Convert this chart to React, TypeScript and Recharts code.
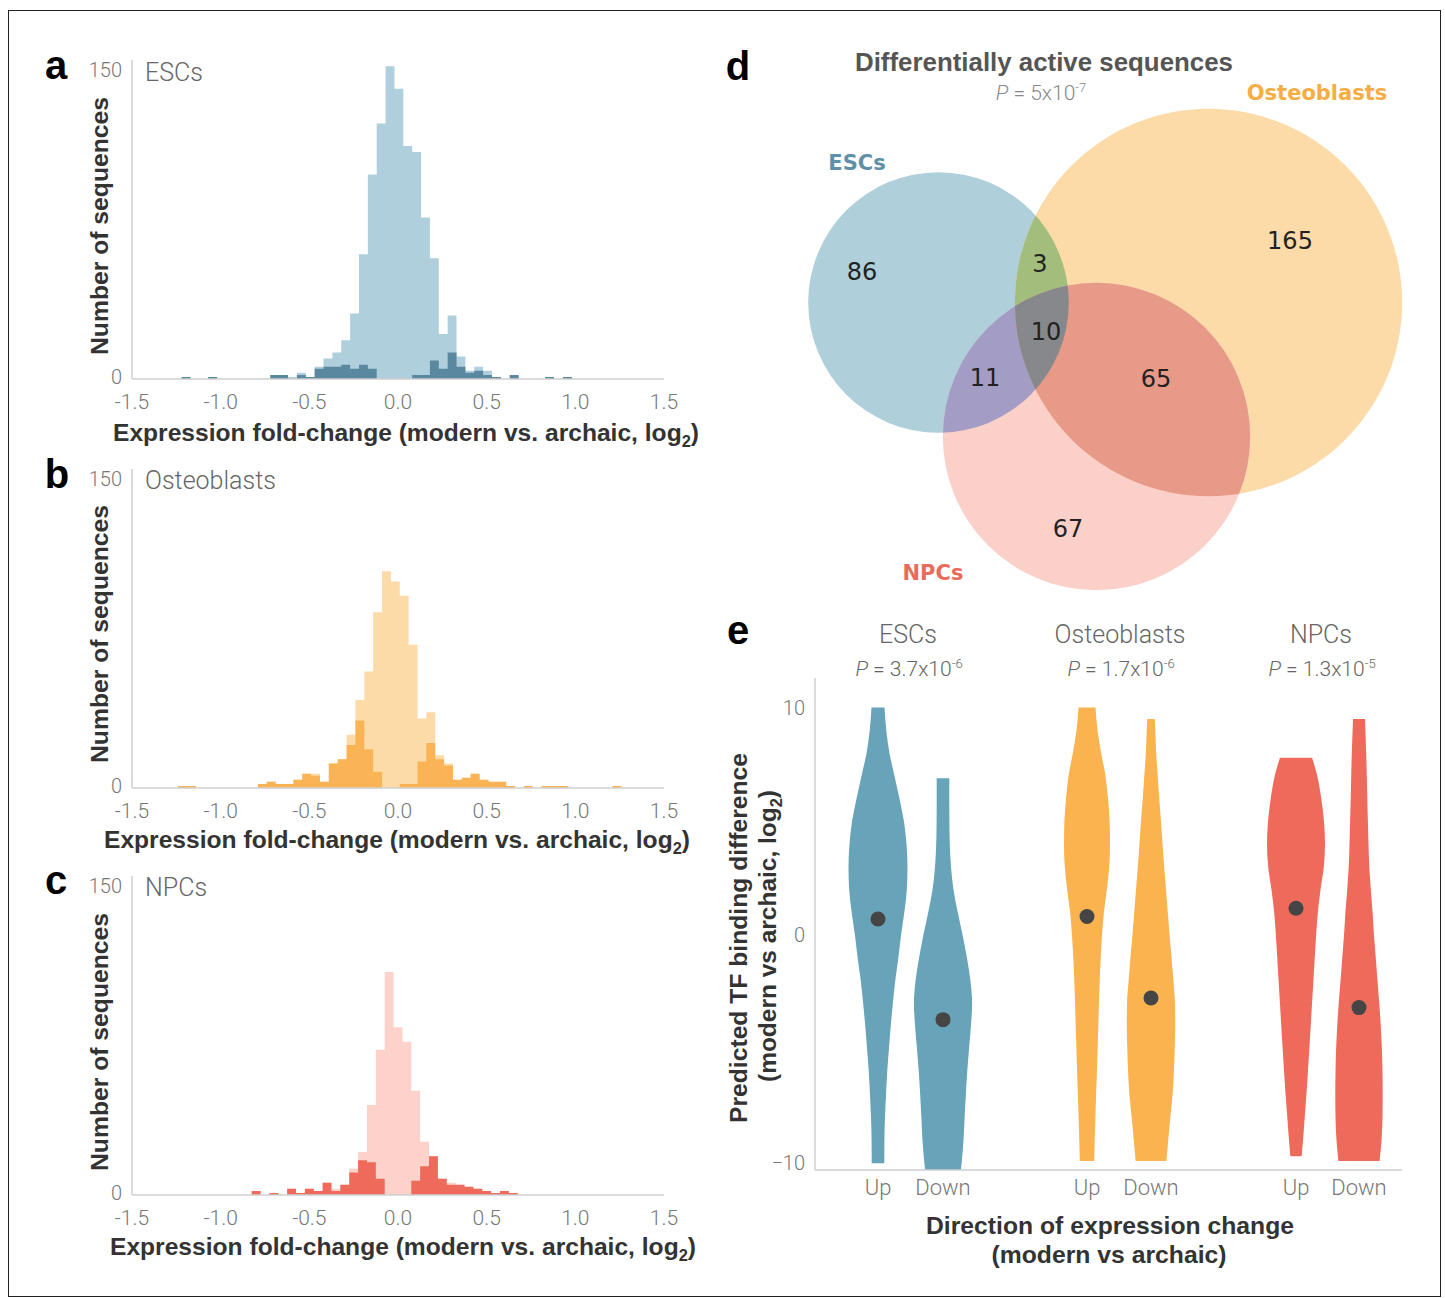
import React from "react";
import {
  Area,
  ComposedChart,
  ReferenceDot,
  Scatter,
  ScatterChart,
  XAxis,
  YAxis,
  ZAxis,
} from "recharts";

const LIGHT = "Roboto, 'Liberation Sans', Arial, sans-serif";
const BOLD = "'Liberation Sans', Arial, sans-serif";
const VENN_FONT = "'DejaVu Sans', sans-serif";
const AXIS = "#cfcfcf";

// ---- panels a-c: histograms (bin left edges = start + i * 0.05) ----
const BIN_WIDTH = 0.05;
const HIST_TICKS = [-1.5, -1.0, -0.5, 0, 0.5, 1.0, 1.5];

const ESC_START = -1.22;
const ESC_ALL = [1, 0, 0, 1, 0, 0, 0, 0, 0, 0, 2, 2, 1, 3, 1, 6, 10, 13, 19, 32, 61, 100, 125, 153, 142, 114, 111, 79, 59, 22, 31, 11, 4, 6, 4, 1, 0, 2, 0, 0, 0, 1, 0, 1, 0];
const ESC_SIG = [1, 0, 0, 1, 0, 0, 0, 0, 0, 0, 2, 2, 0, 2, 1, 5, 6, 6, 7, 5, 7, 5, 0, 0, 0, 0, 2, 2, 9, 5, 13, 6, 3, 4, 2, 1, 0, 2, 0, 0, 0, 1, 0, 1, 0];

const OST_START = -1.24;
const OST_ALL = [1, 1, 0, 0, 0, 0, 0, 0, 0, 2, 3, 2, 2, 4, 7, 7, 3, 12, 14, 26, 43, 57, 86, 106, 101, 94, 70, 34, 37, 16, 12, 4, 5, 7, 4, 3, 3, 1, 0, 1, 0, 1, 1, 1, 0, 0, 0, 0, 0, 1, 0];
const OST_SIG = [1, 1, 0, 0, 0, 0, 0, 0, 0, 2, 3, 2, 2, 4, 7, 6, 3, 12, 14, 21, 33, 19, 8, 0, 0, 2, 2, 13, 22, 14, 11, 4, 5, 7, 4, 3, 3, 1, 0, 1, 0, 1, 1, 1, 0, 0, 0, 0, 0, 1, 0];

const NPC_START = -0.825;
const NPC_ALL = [2, 0, 1, 0, 3, 1, 3, 2, 6, 3, 5, 13, 21, 44, 71, 109, 82, 75, 51, 26, 19, 8, 6, 5, 4, 3, 2, 1, 2, 1, 0];
const NPC_SIG = [2, 0, 1, 0, 3, 1, 3, 2, 6, 2, 5, 11, 17, 16, 8, 0, 0, 0, 7, 14, 19, 8, 5, 5, 4, 3, 2, 1, 2, 1, 0];

// ---- panel d: Venn region counts ----
const REGION_NAMES = ["esc", "ost", "npc", "esc+ost", "esc+npc", "ost+npc", "esc+ost+npc"];
const REGION_COUNTS = [86, 165, 67, 3, 11, 65, 10];
// label positions of the region counts, in the Venn layout space
const REGION_LABEL_X = [82, 510, 288, 260, 205, 376, 266];
const REGION_LABEL_Y = [171, 140, 428, 163, 277, 278, 231];
// circle centres in the Venn layout space (areas follow set sizes)
const SET_KEYS = ["esc", "ost", "npc"];
const SET_X = [158.5, 428.5, 316.5];
const SET_Y = [202.5, 202.5, 336.5];

// ---- panel e: violins (value, half-width) ----
const CELL_TYPES = ["ESCs", "Osteoblasts", "NPCs"];
const P_VALUES = [["3.7", "-6"], ["1.7", "-6"], ["1.3", "-5"]];
const DIRECTIONS = ["Up", "Down"];
const VIOLIN_POS = [63, 128, 272, 336, 481, 544];
const VIOLIN_MEANS = [0.72, -3.7, 0.83, -2.75, 1.19, -3.17];

const ESC_UP: [number, number][] = [
  [10, 6.5], [9, 8.3], [8, 11.5], [7, 16.5], [6, 21.5], [5, 26], [4, 28.5], [3, 29.5], [2, 28.8], [1, 26.3], [0, 23],
  [-1, 20.3], [-2, 17.2], [-3, 14.8], [-4, 12.7], [-5, 10.9], [-6, 9.2], [-7, 8], [-8, 7], [-9, 6.4], [-10, 6.3],
];
const ESC_DOWN: [number, number][] = [
  [6.9, 6.3], [6, 6.3], [5, 6.4], [4, 6.8], [3, 8], [2, 10.5], [1, 14.8], [0, 19.7], [-1, 24], [-2, 27.5], [-3, 29.1],
  [-4, 27.9], [-5, 26], [-6, 24.2], [-7, 22.8], [-8, 21.6], [-9, 20.5], [-10, 18.6], [-10.3, 17.9],
];
const OST_UP: [number, number][] = [
  [10, 8.5], [9, 10.5], [8, 14.2], [7, 18.5], [6, 21], [5, 22.6], [4, 23], [3, 22.2], [2, 19.8], [1, 16.9], [0, 15],
  [-1, 13.7], [-2, 12.7], [-3, 11.9], [-4, 11.3], [-5, 10.6], [-6, 9.9], [-7, 9.1], [-8, 8.4], [-9, 7.7], [-9.9, 7.2],
];
const OST_DOWN: [number, number][] = [
  [9.5, 3.8], [9, 4.3], [8, 5.2], [7, 6.7], [6, 8.3], [5, 10], [4, 11.6], [3, 13.2], [2, 15], [1, 16.8], [0, 18.6],
  [-1, 20.6], [-2, 22.4], [-3, 24], [-4, 24.2], [-5, 23.7], [-6, 22.9], [-7, 21.6], [-8, 19.3], [-9, 17.2], [-9.9, 15.4],
];
const NPC_UP: [number, number][] = [
  [7.8, 16.1], [7, 21.3], [6, 25.3], [5, 28], [4, 29], [3, 27.8], [2, 24.5], [1, 21.8], [0, 20.1], [-1, 18.7],
  [-2, 17.4], [-3, 16], [-4, 14.7], [-5, 13.3], [-6, 11.9], [-7, 10.4], [-8, 8.7], [-9, 7], [-9.7, 5.6],
];
const NPC_DOWN: [number, number][] = [
  [9.5, 6], [9, 6.4], [8, 7.2], [7, 7.8], [6, 8.3], [5, 8.9], [4, 9.5], [3, 10.3], [2, 11.8], [1, 13.6], [0, 15],
  [-1, 16.8], [-2, 18.5], [-3, 20.3], [-4, 21.8], [-5, 22.9], [-6, 23.5], [-7, 23.7], [-8, 23.5], [-9, 22.5], [-9.9, 20.6],
];

const COLORS = {
  esc: { light: "#afcfdc", dark: "#5a88a0", violin: "#67a3b9", label: "#5f90a9" },
  ost: { light: "#fddba8", dark: "#fbb455", violin: "#fbb350", label: "#f4ae45" },
  npc: { light: "#fcd2cb", dark: "#ee6a5b", violin: "#ee6a5a", label: "#e96b5b" },
};
const VENN_COLORS: Record<string, string> = {
  esc: "#afcfdb",
  ost: "#fddba8",
  npc: "#fbd0c8",
  "esc+ost": "#a3be7c",
  "esc+npc": "#a39dc5",
  "ost+npc": "#e89a88",
  "esc+ost+npc": "#87888c",
};

const histRows = (start: number, all: number[], sig: number[]) => {
  const rows = all.map((n, i) => ({ x: +(start + i * BIN_WIDTH).toFixed(4), all: n, sig: sig[i] }));
  rows.push({ x: +(start + all.length * BIN_WIDTH).toFixed(4), all: 0, sig: 0 });
  return rows;
};

function Histogram({ top, start, all, sig, light, dark }: {
  top: number; start: number; all: number[]; sig: number[]; light: string; dark: string;
}) {
  const rows = histRows(start, all, sig);
  return (
    <div style={{ position: "absolute", left: 0, top }}>
      <ComposedChart width={720} height={460} data={rows} margin={{ top: 60, right: 56, bottom: 41, left: 92 }}>
        <XAxis
          type="number"
          dataKey="x"
          domain={[-1.5, 1.5]}
          ticks={HIST_TICKS}
          interval={0}
          allowDataOverflow
          tickFormatter={(v: number) => v.toFixed(1)}
          axisLine={{ stroke: AXIS, strokeWidth: 1.5 }}
          tickLine={false}
          height={40}
          tickMargin={9}
          tick={{ fill: "#777", fontSize: 21, fontFamily: LIGHT, fontWeight: 300 }}
        />
        <YAxis
          type="number"
          domain={[0, 156]}
          ticks={[0, 150]}
          interval={0}
          width={40}
          axisLine={{ stroke: AXIS, strokeWidth: 1.5 }}
          tickLine={false}
          tickMargin={4}
          tick={{ fill: "#777", fontSize: 20, fontFamily: LIGHT, fontWeight: 300, dy: -2 }}
        />
        <Area type="stepAfter" dataKey="all" fill={light} fillOpacity={1} stroke="none" isAnimationActive={false} />
        <Area type="stepAfter" dataKey="sig" fill={dark} fillOpacity={1} stroke="none" isAnimationActive={false} />
      </ComposedChart>
    </div>
  );
}

const VennCircle = (props: any) => {
  const { cx, cy, width, size, payload } = props;
  const r = width ? width / 2 : Math.sqrt(size / Math.PI);
  return (
    <g>
      <defs>
        <clipPath id={`venn-${payload.key}`}>
          <circle cx={cx} cy={cy} r={r} />
        </clipPath>
      </defs>
      <circle cx={cx} cy={cy} r={r} fill={payload.color} />
    </g>
  );
};

const VennOverlap = (props: any) => {
  const { cx, cy, width, size, payload } = props;
  const r = width ? width / 2 : Math.sqrt(size / Math.PI);
  let node: React.ReactNode = <circle cx={cx} cy={cy} r={r} fill={payload.color} />;
  for (const k of payload.clips as string[]) {
    node = <g clipPath={`url(#venn-${k})`}>{node}</g>;
  }
  return <g>{node}</g>;
};

const VennCount = (props: any) => {
  const { cx, cy, payload } = props;
  return (
    <text x={cx} y={cy} dy="0.36em" textAnchor="middle" fontFamily={VENN_FONT} fontSize={24} fill="#222">
      {payload.label}
    </text>
  );
};

function Venn() {
  const setSize = (key: string) =>
    REGION_NAMES.reduce((s, name, i) => (name.split("+").includes(key) ? s + REGION_COUNTS[i] : s), 0);
  const circles = SET_KEYS.map((key, i) => ({ key, x: SET_X[i], y: SET_Y[i], n: setSize(key), color: VENN_COLORS[key] }));
  const overlaps = REGION_NAMES.filter((r) => r.includes("+")).map((region) => {
    const keys = region.split("+");
    const base = circles.find((c) => c.key === keys[0])!;
    return { x: base.x, y: base.y, n: base.n, clips: keys.slice(1), color: VENN_COLORS[region] };
  });
  const counts = REGION_NAMES.map((_, i) => ({ x: REGION_LABEL_X[i], y: REGION_LABEL_Y[i], label: REGION_COUNTS[i] }));
  return (
    <div style={{ position: "absolute", left: 780, top: 100 }}>
      <ScatterChart width={660} height={520} margin={{ top: 0, right: 0, bottom: 0, left: 0 }}>
        <XAxis type="number" dataKey="x" domain={[0, 660]} hide />
        <YAxis type="number" dataKey="y" domain={[0, 520]} reversed hide />
        <ZAxis type="number" dataKey="n" domain={[0, 250]} range={[0, 250 * 485]} />
        <Scatter data={circles} shape={<VennCircle />} isAnimationActive={false} />
        <Scatter data={overlaps} shape={<VennOverlap />} isAnimationActive={false} />
        <Scatter data={counts} shape={<VennCount />} isAnimationActive={false} />
      </ScatterChart>
    </div>
  );
}

function Violins() {
  const profiles = [ESC_UP, ESC_DOWN, OST_UP, OST_DOWN, NPC_UP, NPC_DOWN];
  const colors = [COLORS.esc, COLORS.esc, COLORS.ost, COLORS.ost, COLORS.npc, COLORS.npc].map((c) => c.violin);
  return (
    <div style={{ position: "absolute", left: 700, top: 660 }}>
      <ComposedChart layout="vertical" width={720} height={560} margin={{ top: 18, right: 18, bottom: 10, left: 75 }}>
        <XAxis
          type="number"
          domain={[0, 587]}
          ticks={VIOLIN_POS}
          interval={0}
          allowDataOverflow
          tickFormatter={(_: number, i: number) => DIRECTIONS[i % 2]}
          axisLine={{ stroke: AXIS, strokeWidth: 1.5 }}
          tickLine={false}
          height={40}
          tickMargin={3}
          tick={{ fill: "#777", fontSize: 22, fontFamily: LIGHT, fontWeight: 300 }}
        />
        <YAxis
          type="number"
          dataKey="v"
          domain={[-10.3, 11.3]}
          reversed
          ticks={[-10, 0, 10]}
          interval={0}
          allowDataOverflow
          tickFormatter={(v: number) => (v < 0 ? `\u2212${-v}` : `${v}`)}
          width={40}
          axisLine={{ stroke: AXIS, strokeWidth: 1.5 }}
          tickLine={false}
          tickMargin={4}
          tick={{ fill: "#777", fontSize: 20, fontFamily: LIGHT, fontWeight: 300 }}
        />
        {profiles.map((prof, i) => (
          <Area
            key={i}
            data={prof.map(([v, w]) => ({ v, range: [VIOLIN_POS[i] - w, VIOLIN_POS[i] + w] }))}
            dataKey="range"
            type="monotone"
            fill={colors[i]}
            fillOpacity={1}
            stroke="none"
            isAnimationActive={false}
          />
        ))}
        {VIOLIN_MEANS.map((m, i) => (
          <ReferenceDot key={i} x={VIOLIN_POS[i]} y={m} r={7.5} fill="#454545" stroke="none" />
        ))}
      </ComposedChart>
    </div>
  );
}

const Log2 = () => (
  <>
    log<tspan dy={6} fontSize={16}>2</tspan>
    <tspan dy={-6}>)</tspan>
  </>
);

function Texts() {
  const boldText = { fontFamily: BOLD, fontWeight: 700, fontSize: 24, fill: "#333", lengthAdjust: "spacingAndGlyphs" as const };
  const xTitle = (x: number, y: number) => (
    <text x={x} y={y} textAnchor="middle" textLength={586} {...boldText}>
      Expression fold-change (modern vs. archaic, <Log2 />
    </text>
  );
  const yTitle = (cy: number) => (
    <text transform={`translate(108,${cy}) rotate(-90)`} textAnchor="middle" textLength={258} {...boldText}>
      Number of sequences
    </text>
  );
  const letter = (t: string, x: number, y: number) => (
    <text x={x} y={y} textAnchor="middle" fontFamily={BOLD} fontWeight={700} fontSize={40} fill="#000">{t}</text>
  );
  const light = { fontFamily: LIGHT, fontWeight: 300, fill: "#666" };
  const vennLabel = (t: string, x: number, y: number, c: string) => (
    <text x={x} y={y} textAnchor="middle" fontFamily={VENN_FONT} fontWeight={700} fontSize={21} fill={c}>{t}</text>
  );
  const colX = [908, 1120, 1321];
  return (
    <svg width={1445} height={1298} style={{ position: "absolute", left: 0, top: 0, pointerEvents: "none" }}>
      {letter("a", 56, 79)}
      {letter("b", 57, 488)}
      {letter("c", 56, 894)}
      {letter("d", 738, 80)}
      {letter("e", 738, 644)}

      <text x={145} y={81} fontSize={25} {...light}>ESCs</text>
      <text x={145} y={489} fontSize={25} {...light}>Osteoblasts</text>
      <text x={145} y={896} fontSize={25} {...light}>NPCs</text>
      {xTitle(406, 441)}
      {xTitle(397, 848)}
      {xTitle(403, 1255)}
      {yTitle(226)}
      {yTitle(634)}
      {yTitle(1042)}

      <text x={1044} y={71} textAnchor="middle" textLength={378} {...boldText} fontSize={25} fill="#555">
        Differentially active sequences
      </text>
      <text x={1041} y={100} textAnchor="middle" fontSize={21} {...light} fill="#888">
        <tspan fontStyle="italic">P</tspan> = 5x10<tspan dy={-8} fontSize={13}>-7</tspan>
      </text>
      {vennLabel("Osteoblasts", 1317, 100, COLORS.ost.label)}
      {vennLabel("ESCs", 857, 170, COLORS.esc.label)}
      {vennLabel("NPCs", 933, 580, COLORS.npc.label)}

      {CELL_TYPES.map((c, i) => (
        <g key={c}>
          <text x={colX[i]} y={643} textAnchor="middle" fontSize={25} {...light}>{c}</text>
          <text x={colX[i] + 1} y={676} textAnchor="middle" fontSize={21} {...light}>
            <tspan fontStyle="italic">P</tspan> = {P_VALUES[i][0]}x10<tspan dy={-8} fontSize={13}>{P_VALUES[i][1]}</tspan>
          </text>
        </g>
      ))}
      <text transform="translate(747,938) rotate(-90)" textAnchor="middle" textLength={370} {...boldText}>
        Predicted TF binding difference
      </text>
      <text transform="translate(776,936) rotate(-90)" textAnchor="middle" textLength={292} {...boldText}>
        (modern vs archaic, <Log2 />
      </text>
      <text x={1110} y={1234} textAnchor="middle" textLength={368} {...boldText}>
        Direction of expression change
      </text>
      <text x={1109} y={1263} textAnchor="middle" textLength={235} {...boldText}>
        (modern vs archaic)
      </text>
    </svg>
  );
}

export default function App() {
  return (
    <div style={{ position: "relative", width: 1445, height: 1298, background: "#fff", overflow: "hidden" }}>
      <style>{"body{margin:0}"}</style>
      <div style={{ position: "absolute", left: 8, top: 10, width: 1433, height: 1287, border: "1px solid #222", boxSizing: "border-box" }} />
      <Histogram top={0} start={ESC_START} all={ESC_ALL} sig={ESC_SIG} light={COLORS.esc.light} dark={COLORS.esc.dark} />
      <Histogram top={409} start={OST_START} all={OST_ALL} sig={OST_SIG} light={COLORS.ost.light} dark={COLORS.ost.dark} />
      <Histogram top={816} start={NPC_START} all={NPC_ALL} sig={NPC_SIG} light={COLORS.npc.light} dark={COLORS.npc.dark} />
      <Venn />
      <Violins />
      <Texts />
    </div>
  );
}
